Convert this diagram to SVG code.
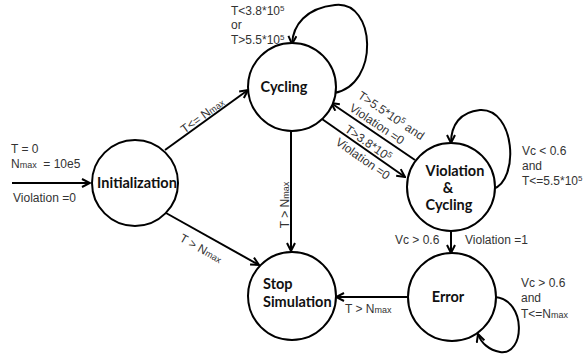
<svg xmlns="http://www.w3.org/2000/svg" width="583" height="356" viewBox="0 0 583 356">
<style>
.node{fill:#fff;stroke:#000;stroke-width:2}
.nl{font-family:Lato,"Liberation Sans",sans-serif;font-weight:bold;font-size:14.5px;fill:#111}
.e{fill:none;stroke:#000;stroke-width:2;marker-end:url(#arr)}
.lb{font-family:"Liberation Sans",Arial,sans-serif;font-size:12px;fill:#333}
.sm{font-size:9px}
.sp{font-size:8px}
</style>
<defs>
<marker id="arr" viewBox="0 0 10 10" refX="9" refY="5" markerWidth="10" markerHeight="10" orient="auto" markerUnits="userSpaceOnUse">
<path d="M1,1 L9,5 L1,9" fill="none" stroke="#000" stroke-width="2"/>
</marker>
</defs>
<rect width="583" height="356" fill="#fff"/>
<g id="connectors">
<path class="e" d="M12,183 L90,183"/>
<path class="e" d="M165,150 L248,90"/>
<path class="e" d="M166,213 L259,265"/>
<path class="e" d="M291,131 L291,251"/>
<path class="e" d="M322,119 L405,177"/>
<path class="e" d="M415,160 L331,103"/>
<path class="e" d="M451,231 L451,253"/>
<path class="e" d="M407,297 L336,297"/>
<path class="e" d="M334,93 C380,85 376,0 335,5 C306,8 293,25 292,44"/>
<path class="e" d="M493,189 C520,180 515,108 480,110 C460,112 451,125 451,143"/>
<path class="e" d="M495,297 C527,300 525,356 500,352 C489,350 481,343 478,334"/>
</g>
<g id="labels">
<text class="lb" x="11" y="153">T = 0</text>
<text class="lb" x="11" y="168" xml:space="preserve">N<tspan class="sm">max</tspan>  = 10e5</text>
<text class="lb" x="13" y="202">Violation =0</text>
<text class="lb" x="231" y="15">T&lt;3.8*10<tspan class="sp" dy="-4">5</tspan></text>
<text class="lb" x="231" y="29">or</text>
<text class="lb" x="231" y="44">T&gt;5.5*10<tspan class="sp" dy="-4">5</tspan></text>
<text class="lb" transform="translate(205,119) rotate(-36)" text-anchor="middle">T&lt;= N<tspan class="sm">max</tspan></text>
<text class="lb" transform="translate(199,252) rotate(29.5)" text-anchor="middle">T &gt; N<tspan class="sm">max</tspan></text>
<text class="lb" transform="translate(289,205) rotate(-90)" text-anchor="middle">T &gt; N<tspan class="sm">max</tspan></text>
<g transform="translate(357,97.5) rotate(34)">
<text class="lb" x="0" y="0">T&gt;5.5*10<tspan class="sp" dy="-4">5</tspan><tspan dy="4"> and</tspan></text>
<text class="lb" x="0" y="15">Violation =0</text>
</g>
<g transform="translate(344,131) rotate(35)">
<text class="lb" x="0" y="0">T&gt;3.8*10<tspan class="sp" dy="-4">5</tspan></text>
<text class="lb" x="0" y="16">Violation =0</text>
</g>
<text class="lb" x="522" y="155">Vc &lt; 0.6</text>
<text class="lb" x="522" y="170">and</text>
<text class="lb" x="522" y="185">T&lt;=5.5*10<tspan class="sp" dy="-4">5</tspan></text>
<text class="lb" x="395" y="244">Vc &gt; 0.6</text>
<text class="lb" x="465" y="244">Violation =1</text>
<text class="lb" x="345" y="313">T &gt; N<tspan class="sm">max</tspan></text>
<text class="lb" x="521" y="287">Vc &gt; 0.6</text>
<text class="lb" x="521" y="302">and</text>
<text class="lb" x="521" y="318">T&lt;=N<tspan class="sm">max</tspan></text>
</g>
<g id="initialization">
<circle class="node" cx="135" cy="183" r="43"/>
<text class="nl" x="137" y="188" text-anchor="middle">Initialization</text>
</g>
<g id="cycling">
<circle class="node" cx="292" cy="87" r="44"/>
<text class="nl" x="284" y="92" text-anchor="middle">Cycling</text>
</g>
<g id="violation_cycling">
<circle class="node" cx="451" cy="187" r="44"/>
<text class="nl" x="455" y="176" text-anchor="middle">Violation</text>
<text class="nl" x="448" y="193" text-anchor="middle">&amp;</text>
<text class="nl" x="449" y="210" text-anchor="middle">Cycling</text>
</g>
<g id="stop_simulation">
<circle class="node" cx="292" cy="296" r="44"/>
<text class="nl" x="263" y="289">Stop</text>
<text class="nl" x="263" y="307">Simulation</text>
</g>
<g id="error">
<circle class="node" cx="452" cy="297" r="44"/>
<text class="nl" x="448" y="302" text-anchor="middle">Error</text>
</g>
</svg>
